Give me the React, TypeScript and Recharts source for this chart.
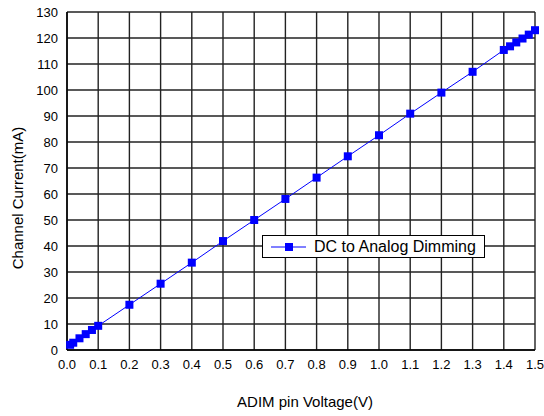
import React from "react";
import { LineChart, Line, XAxis, YAxis, CartesianGrid, Legend } from "recharts";

const voltage = [0.01, 0.02, 0.04, 0.06, 0.08, 0.1, 0.2, 0.3, 0.4, 0.5, 0.6, 0.7, 0.8, 0.9, 1.0, 1.1, 1.2, 1.3, 1.4, 1.42, 1.44, 1.46, 1.48, 1.5];
const current = [2.0, 2.8, 4.5, 6.1, 7.7, 9.3, 17.4, 25.5, 33.6, 41.9, 50.0, 58.1, 66.3, 74.5, 82.6, 90.9, 99.0, 107.0, 115.4, 116.8, 118.3, 119.8, 121.3, 123.0];
const xTicks = [0, 0.1, 0.2, 0.3, 0.4, 0.5, 0.6, 0.7, 0.8, 0.9, 1.0, 1.1, 1.2, 1.3, 1.4, 1.5];
const yTicks = [0, 10, 20, 30, 40, 50, 60, 70, 80, 90, 100, 110, 120, 130];
const seriesName = "DC to Analog Dimming";
const xTitle = "ADIM pin Voltage(V)";
const yTitle = "Channel Current(mA)";

const data = voltage.map((v, i) => ({ v, c: current[i] }));

const FONT = "'Liberation Sans', Arial, sans-serif";
const BLUE = "#0000ff";

const SquareDot = (props: any) => {
  const { cx, cy, index } = props;
  if (cx == null || cy == null) return null;
  return <rect key={`d${index}`} x={cx - 4} y={cy - 4} width={8} height={8} fill={BLUE} />;
};

const LegendBox = () => (
  <div
    style={{
      border: "1px solid #000",
      background: "#fff",
      height: 21,
      display: "flex",
      alignItems: "center",
      paddingLeft: 8,
      paddingRight: 8,
      fontFamily: FONT,
      fontSize: 16,
      color: "#000",
      whiteSpace: "nowrap",
    }}
  >
    <svg width={35} height={10} style={{ marginRight: 8 }}>
      <line x1={0} y1={5} x2={35} y2={5} stroke={BLUE} strokeWidth={1} />
      <rect x={14} y={1} width={8} height={8} fill={BLUE} />
    </svg>
    <span>{seriesName}</span>
  </div>
);

export default function App() {
  return (
    <div style={{ position: "absolute", left: 0, top: 0, background: "#fff" }}>
      <LineChart width={544} height={416} data={data} margin={{ top: 12, right: 9, left: 0, bottom: 0 }}>
        <CartesianGrid stroke="#222" strokeWidth={1.4} />
        <XAxis
          dataKey="v"
          type="number"
          domain={[0, 1.5]}
          ticks={xTicks}
          interval={0}
          tickFormatter={(t: number) => t.toFixed(1)}
          tick={{ fill: "#000", fontSize: 13, fontFamily: FONT }}
          tickLine={false}
          tickSize={0}
          tickMargin={10}
          axisLine={{ stroke: "#000", strokeWidth: 1.5 }}
          height={66}
          label={{
            content: (p: any) => (
              <text x={305} y={407} textAnchor="middle" fontSize={15} fontFamily={FONT} fill="#000">
                {xTitle}
              </text>
            ),
          }}
        />
        <YAxis
          type="number"
          domain={[0, 130]}
          ticks={yTicks}
          interval={0}
          tick={{ fill: "#000", fontSize: 13, fontFamily: FONT }}
          tickLine={false}
          tickSize={0}
          tickMargin={9}
          axisLine={{ stroke: "#000", strokeWidth: 1.5 }}
          width={67}
          label={{
            content: (p: any) => (
              <text
                x={23}
                y={198}
                textAnchor="middle"
                fontSize={15}
                fontFamily={FONT}
                fill="#000"
                transform="rotate(-90 23 198)"
              >
                {yTitle}
              </text>
            ),
          }}
        />
        <Legend
          layout="horizontal"
          verticalAlign="middle"
          align="center"
          content={() => <LegendBox />}
          wrapperStyle={{ left: 262, top: 235, width: "auto" }}
        />
        <Line
          dataKey="c"
          name={seriesName}
          stroke={BLUE}
          strokeWidth={1}
          dot={<SquareDot />}
          activeDot={false}
          isAnimationActive={false}
        />
      </LineChart>
    </div>
  );
}
